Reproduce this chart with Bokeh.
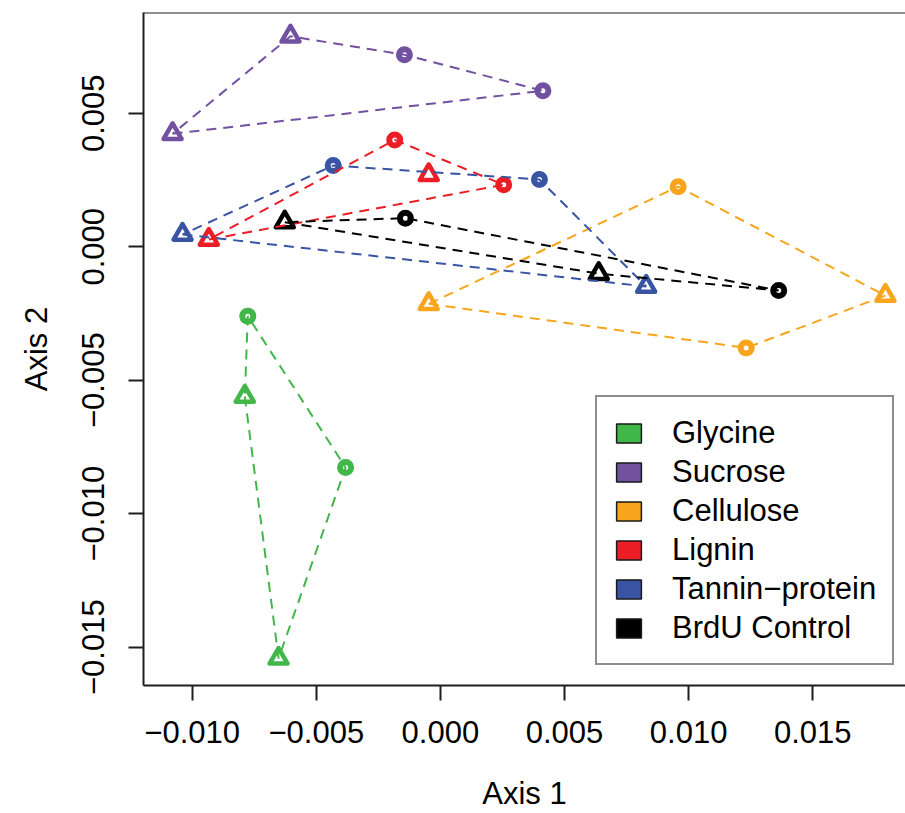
from bokeh.plotting import figure
from bokeh.models import (Range1d, FixedTicker, CustomJSTickFormatter, Legend,
                          LegendItem, Span)
from bokeh.embed import file_html
from bokeh.resources import INLINE

# ---------------- data ----------------
groups = ["Glycine", "Sucrose", "Cellulose", "Lignin", "Tannin\u2212protein", "BrdU Control"]
colors = ["#41B649", "#7151A0", "#F8A51D", "#EC1D24", "#3A54A4", "#000000"]

glycine_x = [-0.00776, -0.00788, -0.00382, -0.00652]
glycine_y = [-0.00260, -0.00561, -0.00827, -0.01542]
glycine_m = ["circle", "triangle", "circle", "triangle"]

sucrose_x = [-0.00604, -0.00145, 0.00413, -0.01079]
sucrose_y = [0.00788, 0.00719, 0.00584, 0.00423]
sucrose_m = ["triangle", "circle", "circle", "triangle"]

cellulose_x = [0.00958, 0.01793, 0.01232, -0.00047]
cellulose_y = [0.00225, -0.00183, -0.00379, -0.00214]
cellulose_m = ["circle", "triangle", "circle", "triangle"]

lignin_x = [-0.00184, -0.00047, 0.00255, -0.00933]
lignin_y = [0.00400, 0.00269, 0.00232, 0.00027]
lignin_m = ["circle", "triangle", "circle", "triangle"]

tannin_x = [-0.00432, 0.00399, 0.00829, -0.01039]
tannin_y = [0.00304, 0.00252, -0.00149, 0.00046]
tannin_m = ["circle", "circle", "triangle", "triangle"]

brdu_x = [-0.00627, -0.00141, 0.00638, 0.01363]
brdu_y = [0.00092, 0.00107, -0.00101, -0.00164]
brdu_m = ["triangle", "circle", "triangle", "circle"]

xs = [glycine_x, sucrose_x, cellulose_x, lignin_x, tannin_x, brdu_x]
ys = [glycine_y, sucrose_y, cellulose_y, lignin_y, tannin_y, brdu_y]
ms = [glycine_m, sucrose_m, cellulose_m, lignin_m, tannin_m, brdu_m]

x_ticks = [-0.010, -0.005, 0.000, 0.005, 0.010, 0.015]
y_ticks = [-0.015, -0.010, -0.005, 0.000, 0.005]

# ---------------- helpers ----------------
def convex_hull(px, py):
    pts = sorted(zip(px, py))
    def cross(o, a, b):
        return (a[0] - o[0]) * (b[1] - o[1]) - (a[1] - o[1]) * (b[0] - o[0])
    lower, upper = [], []
    for pt in pts:
        while len(lower) >= 2 and cross(lower[-2], lower[-1], pt) <= 0:
            lower.pop()
        lower.append(pt)
    for pt in reversed(pts):
        while len(upper) >= 2 and cross(upper[-2], upper[-1], pt) <= 0:
            upper.pop()
        upper.append(pt)
    hull = lower[:-1] + upper[:-1]
    hull.append(hull[0])
    return [h[0] for h in hull], [h[1] for h in hull]

FONT = "Liberation Sans"
FS = "31px"
LINE = "#1e1e1e"

p = figure(width=905, height=813, output_backend="svg", toolbar_location=None,
           x_range=Range1d(-0.011962, 0.018739), y_range=Range1d(-0.016434, 0.008772),
           min_border_left=143, min_border_right=0, min_border_top=12, min_border_bottom=128,
           background_fill_color="white", border_fill_color="white")
p.outline_line_color = None
p.xgrid.visible = False
p.ygrid.visible = False

# points
for gx, gy, gm, c in zip(xs, ys, ms, colors):
    cx = [x for x, m in zip(gx, gm) if m == "circle"]
    cy = [y for y, m in zip(gy, gm) if m == "circle"]
    tx = [x for x, m in zip(gx, gm) if m == "triangle"]
    ty = [y for y, m in zip(gy, gm) if m == "triangle"]
    p.scatter(cx, cy, marker="circle", size=11, line_width=6, line_color=c, fill_color=None)
    p.scatter(tx, ty, marker="triangle", size=18, line_width=4.5, line_color=c,
              fill_color=None, line_join="round")

# hulls
for gx, gy, c in zip(xs, ys, colors):
    hx, hy = convex_hull(gx, gy)
    p.line(hx, hy, line_color=c, line_width=2, line_dash="10 7")

# frame top line
p.add_layout(Span(location=p.y_range.end, dimension="width", line_color=LINE, line_width=2))

fmt = CustomJSTickFormatter(code="return (tick < 0 ? '\\u2212' : '') + Math.abs(tick).toFixed(3);")

for ax in (p.xaxis[0], p.yaxis[0]):
    ax.formatter = fmt
    ax.axis_line_color = LINE
    ax.axis_line_width = 2
    ax.major_tick_line_color = LINE
    ax.major_tick_line_width = 2
    ax.major_tick_in = 0
    ax.major_tick_out = 15
    ax.minor_tick_line_color = None
    ax.major_label_text_font = FONT
    ax.major_label_text_font_size = FS
    ax.major_label_text_color = "black"
    ax.axis_label_text_font = FONT
    ax.axis_label_text_font_size = FS
    ax.axis_label_text_font_style = "normal"
    ax.axis_label_text_color = "black"

p.xaxis[0].ticker = FixedTicker(ticks=x_ticks)
p.yaxis[0].ticker = FixedTicker(ticks=y_ticks)
p.xaxis[0].axis_label = "Axis 1"
p.yaxis[0].axis_label = "Axis 2"
p.xaxis[0].major_label_standoff = 20
p.xaxis[0].axis_label_standoff = 30
p.yaxis[0].major_label_standoff = 24
p.yaxis[0].axis_label_standoff = 26
p.yaxis[0].major_label_orientation = "vertical"

# legend (swatch renderers are hidden; they only supply the legend glyphs)
items = []
for gx, gy, name, c in zip(xs, ys, groups, colors):
    r = p.rect(x=gx, y=gy, width=0.001, height=0.001, fill_color=c,
               line_color="#1a1a1a", line_width=1.5, visible=False)
    items.append(LegendItem(label=name, renderers=[r]))
legend = Legend(items=items, location=(452, 20), glyph_width=31, glyph_height=24,
                label_height=39, spacing=0, padding=16, label_standoff=28, margin=0,
                label_text_font=FONT, label_text_font_size=FS, label_text_color="black",
                border_line_color=LINE, border_line_width=2,
                background_fill_color="white", background_fill_alpha=1.0)
p.add_layout(legend)

open("out.html", "w").write(file_html(p, INLINE))
